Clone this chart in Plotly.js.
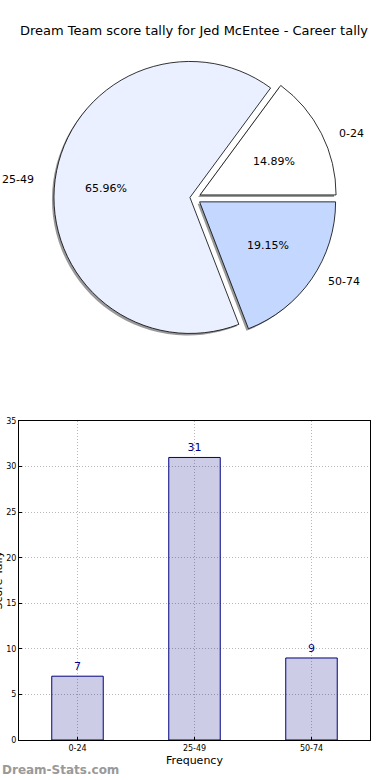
<!DOCTYPE html>
<html>
<head>
<meta charset="utf-8">
<script src="https://cdn.plot.ly/plotly-3.0.1.min.js"></script>
<style>html,body{margin:0;padding:0;background:#fff;}#chart{width:390px;height:780px;}</style>
</head>
<body>
<div id="chart"></div>
<script>
var categories = ['0-24', '25-49', '50-74'];
var tallies = [7, 31, 9];
var pieColors = ['#ffffff', '#eaf0ff', '#c4d8ff'];
var pulls = [0.05, 0.03, 0.05];
var chartTitle = 'Dream Team score tally for Jed McEntee - Career tally';
var xTitle = 'Frequency';
var yTitle = 'Score Tally';
var watermark = 'Dream-Stats.com';

var W = 390, H = 780;
function px(x){return x / W;}
function py(y){return 1 - y / H;}

var total = tallies.reduce(function(a, b){return a + b;}, 0);
var startRotation = 90 - 360 * tallies[0] / total;

var pieCx = 194, pieCy = 198, pieR = 136, maxPull = 0.05;
var pieHalf = pieR * (1 + maxPull);
var pieDomain = {x: [px(pieCx - pieHalf), px(pieCx + pieHalf)], y: [py(pieCy + pieHalf), py(pieCy - pieHalf)]};
var shadowDomain = {x: [px(pieCx - pieHalf - 2), px(pieCx + pieHalf - 2)], y: [py(pieCy + pieHalf + 2), py(pieCy - pieHalf + 2)]};

var common = {type: 'pie', labels: categories, values: tallies, sort: false,
  direction: 'counterclockwise', rotation: startRotation, pull: pulls, hoverinfo: 'none',
  showlegend: false, textinfo: 'none'};

var shadow = Object.assign({}, common, {
  domain: shadowDomain, marker: {colors: ['#999999', '#999999', '#999999'], line: {width: 0}}
});
var pie = Object.assign({}, common, {
  domain: pieDomain,
  marker: {colors: pieColors, line: {color: '#000000', width: 0.8}}
});

// label / percent annotations placed at matplotlib-style distances along each slice's mid-angle
var annCx = 193, annCy = 199, annRx = 140, annRy = 127;
var pieAnnotations = [];
var acc = 0;
tallies.forEach(function(v, i){
  var mid = (acc + v / 2) / total * 2 * Math.PI;
  acc += v;
  var c = Math.cos(mid), s = Math.sin(mid);
  var ld = 1.1 + pulls[i], pd = 0.6 + pulls[i];
  pieAnnotations.push({text: categories[i], xref: 'paper', yref: 'paper',
    x: px(annCx + ld * annRx * c), y: py(annCy - ld * annRy * s),
    xanchor: c >= 0 ? 'left' : 'right', yanchor: 'middle', showarrow: false,
    font: {family: 'DejaVu Sans', size: 11, color: '#000000'}});
  pieAnnotations.push({text: (100 * v / total).toFixed(2) + '%', xref: 'paper', yref: 'paper',
    x: px(annCx + pd * annRx * c), y: py(annCy - pd * annRy * s),
    xanchor: 'center', yanchor: 'middle', showarrow: false,
    font: {family: 'DejaVu Sans', size: 11, color: '#000000'}});
});

var bars = {
  type: 'bar', x: categories, y: tallies, width: 0.44,
  marker: {color: 'rgba(0,0,128,0.2)', line: {color: '#000080', width: 1}},
  text: tallies.map(String), textposition: 'outside', cliponaxis: false,
  textfont: {family: 'DejaVu Sans', size: 11, color: '#000080'},
  hoverinfo: 'none', showlegend: false, xaxis: 'x', yaxis: 'y'
};

var layout = {
  width: W, height: H, margin: {l: 0, r: 0, t: 0, b: 0},
  paper_bgcolor: '#ffffff', plot_bgcolor: '#ffffff',
  font: {family: 'DejaVu Sans', color: '#000000'},
  title: {text: chartTitle, font: {family: 'DejaVu Sans', size: 13, color: '#000000'},
    x: 194 / W, xanchor: 'center', xref: 'paper', y: py(30), yref: 'container', yanchor: 'middle'},
  xaxis: {domain: [px(19), px(370)], anchor: 'y', type: 'category', range: [-0.5, 2.5],
    showgrid: true, gridcolor: '#b8b8b8', griddash: '1px,2px', gridwidth: 1,
    showline: true, linecolor: '#000000', linewidth: 1, mirror: true,
    ticks: 'inside', ticklen: 3, tickcolor: '#000000',
    tickfont: {size: 8, family: 'DejaVu Sans'},
    title: {text: xTitle, font: {size: 11}, standoff: 4}, zeroline: false, fixedrange: true},
  yaxis: {domain: [py(740), py(421)], anchor: 'x', range: [0, 35], dtick: 5,
    showgrid: true, gridcolor: '#b8b8b8', griddash: '1px,2px', gridwidth: 1,
    showline: true, linecolor: '#000000', linewidth: 1, mirror: true,
    ticks: 'inside', ticklen: 3, tickcolor: '#000000',
    tickfont: {size: 8, family: 'DejaVu Sans'},
    zeroline: false, fixedrange: true},
  annotations: pieAnnotations.concat([
    {text: yTitle, xref: 'paper', yref: 'paper', x: px(-2.5), y: py(580), textangle: -90,
      xanchor: 'center', yanchor: 'middle', showarrow: false,
      font: {family: 'DejaVu Sans', size: 11, color: '#000000'}},
    {text: '<b>' + watermark + '</b>', xref: 'paper', yref: 'paper', x: 0, y: py(770),
      xanchor: 'left', yanchor: 'middle', showarrow: false,
      font: {family: 'DejaVu Sans', size: 12, color: '#999999'}}])
};

Plotly.newPlot('chart', [shadow, pie, bars], layout, {displayModeBar: false, staticPlot: true});
</script>
</body>
</html>
